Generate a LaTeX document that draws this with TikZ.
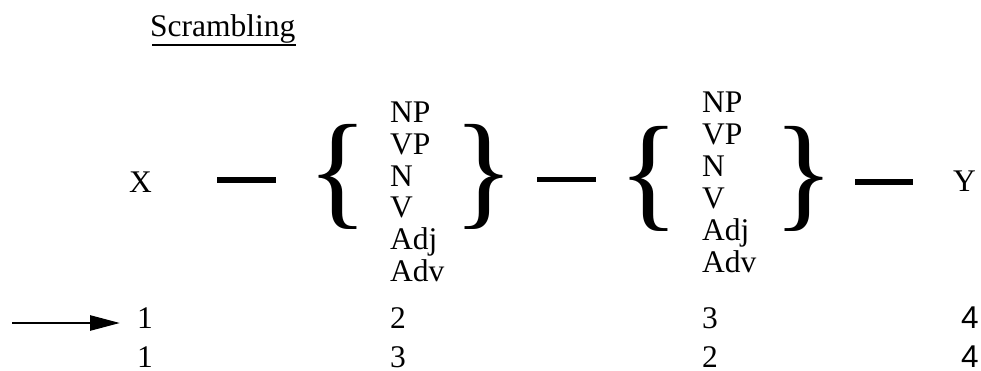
\documentclass[tikz,border=0pt]{standalone}
\usepackage{fontspec}
\setmainfont{Liberation Serif}
\newfontfamily\sansfam{Liberation Sans}
\usetikzlibrary{arrows.meta}
\begin{document}
\begin{tikzpicture}[x=1pt,y=-1pt,
  txt/.style={font=\fontsize{31.5}{32}\selectfont, inner sep=0pt, anchor=base west},
  bar/.style={line width=5.5pt},
  bracebox/.style={inner sep=0pt, anchor=center, font=\fontsize{127}{127}\selectfont},
  arr/.style={line width=2.7pt, -{Triangle[length=30pt,width=15pt]}}]
\useasboundingbox (0,0) rectangle (981,371);
% title
\node[txt] (title) at (150,37) {Scrambling};
\draw[line width=2pt] (title.base west) ++(2,8.5) coordinate (ul1) -- (ul1 -| title.base east);
% X and Y
\node[txt] (X) at (129,193) {X};
\node[txt] (Y) at (953,192) {Y};
% bars
\coordinate (b1a) at (217,180); \coordinate (b1b) at (276,180);
\coordinate (b2a) at (537,179.5); \coordinate (b2b) at (596,179.5);
\coordinate (b3a) at (855,182); \coordinate (b3b) at (913,182);
\draw[bar] (b1a) -- (b1b);
\draw[bar] (b2a) -- (b2b);
\draw[bar] (b3a) -- (b3b);
% braces
\node[bracebox] (lb1) at (337.5,177) {\{};
\node[bracebox] (rb1) at (484,177) {\}};
\node[bracebox] (lb2) at (649,179) {\{};
\node[bracebox] (rb2) at (804,179) {\}};
% columns
\foreach \t [count=\i] in {NP,VP,N,V,Adj,Adv} {
  \node[txt] (L\i) at (390,{122.3+(\i-1)*31.9}) {\t};
  \node[txt] (R\i) at (702,{113+(\i-1)*31.9}) {\t};
}
% numbers
\node[txt] (a1) at (137,328.3) {1};
\node[txt] (a2) at (390,328.3) {2};
\node[txt] (a3) at (702,328.3) {3};
\node[txt] (a4) at (961,328.3) {\sansfam 4};
\node[txt] (b1) at (137,367) {1};
\node[txt] (b2) at (390,367) {3};
\node[txt] (b3) at (702,367) {2};
\node[txt] (b4) at (961,367) {\sansfam 4};
% arrow
\coordinate (as) at (12,323);
\draw[arr, shorten >=17pt] (as) -- (as -| a1.west);
\end{tikzpicture}
\end{document}
